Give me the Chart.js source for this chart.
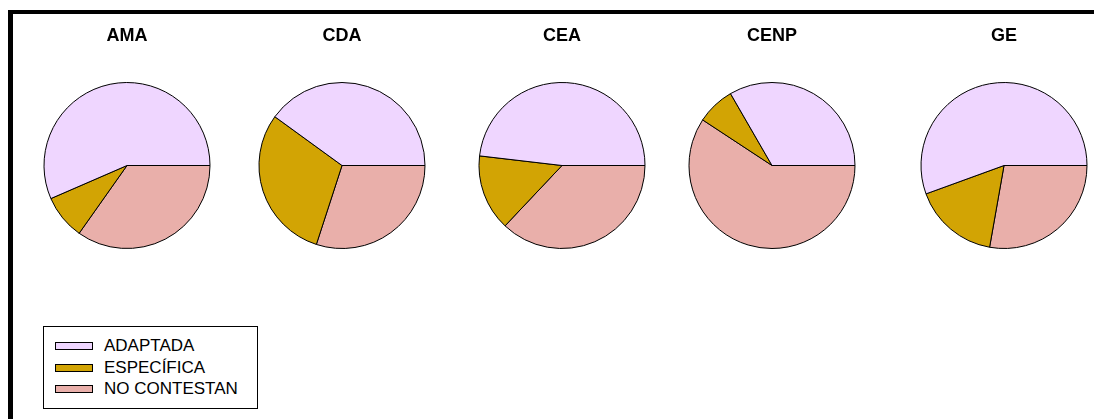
<!DOCTYPE html>
<html>
<head>
<meta charset="utf-8">
<script src="https://cdn.jsdelivr.net/npm/chart.js@4"></script>
<style>
    body { margin: 0; width: 1094px; height: 419px; background: #fff; position: relative; overflow: hidden; font-family: "Liberation Sans", Arial, sans-serif; }
    #frame { position: absolute; left: 8px; top: 10px; width: 1200px; height: 500px; border-top: 4px solid #000; border-left: 5px solid #000; }
    .pie { position: absolute; top: 0; }
    #legend { position: absolute; left: 43px; top: 326px; width: 215px; height: 83px; border: 1px solid #000; box-sizing: border-box; background: #fff; }
    .row { position: absolute; left: 11px; height: 20px; font-size: 17px; line-height: 20px; color: #000; }
    .sw { position: absolute; left: 0; top: 6px; width: 38px; height: 8px; border: 1px solid #000; box-sizing: border-box; }
    .lbl { position: absolute; left: 49px; top: 0; white-space: nowrap; }
</style>
</head>
<body>
<div id="frame"></div>
<div id="legend"></div>

<script>
// Categories (slice order, counter-clockwise from 3 o'clock)
const categories = ['ADAPTADA', 'ESPECÍFICA', 'NO CONTESTAN'];
const colors = ['#efd6ff', '#d2a404', '#e9afaa'];

// One pie per group
const groups = ['AMA', 'CDA', 'CEA', 'CENP', 'GE'];
const adaptada    = [13, 4, 13, 9, 10];
const especifica  = [2, 3, 4, 2, 3];
const noContestan = [8, 3, 10, 16, 5];

// Horizontal centre of each pie on the page
const centers = [127, 342, 562, 772, 1004];

const Pies = {
    instances: {},

    init() {
        groups.forEach((name, i) => {
            const canvas = document.createElement('canvas');
            canvas.className = 'pie';
            canvas.width = 220;
            canvas.height = 274;
            canvas.style.left = (centers[i] - 110) + 'px';
            document.body.appendChild(canvas);

            // Chart.js draws clockwise, R drew counter-clockwise: reverse order
            const values = [adaptada[i], especifica[i], noContestan[i]].reverse();
            const bg = colors.slice().reverse();

            this.instances[name] = new Chart(canvas.getContext('2d'), {
                type: 'pie',
                data: {
                    labels: categories.slice().reverse(),
                    datasets: [{
                        data: values,
                        backgroundColor: bg,
                        borderColor: '#000',
                        borderWidth: 1,
                        hoverOffset: 0,
                        offset: 0
                    }]
                },
                options: {
                    responsive: false,
                    animation: false,
                    rotation: 90,
                    radius: 83,
                    events: [],
                    plugins: {
                        legend: { display: false },
                        tooltip: { enabled: false },
                        title: {
                            display: true,
                            text: name,
                            color: '#000',
                            font: { family: '"Liberation Sans", Arial, sans-serif', size: 18, weight: 'bold' },
                            padding: { top: 25, bottom: 10.4 }
                        }
                    }
                }
            });
        });
    },

    // Shared legend, drawn as HTML from the same arrays
    legend() {
        const box = document.getElementById('legend');
        categories.forEach((cat, i) => {
            const row = document.createElement('div');
            row.className = 'row';
            row.style.top = (9 + i * 21.6) + 'px';
            row.innerHTML = '<span class="sw" style="background:' + colors[i] + '"></span>' +
                '<span class="lbl">' + cat + '</span>';
            box.appendChild(row);
        });
    }
};

Pies.init();
Pies.legend();
</script>
</body>
</html>
